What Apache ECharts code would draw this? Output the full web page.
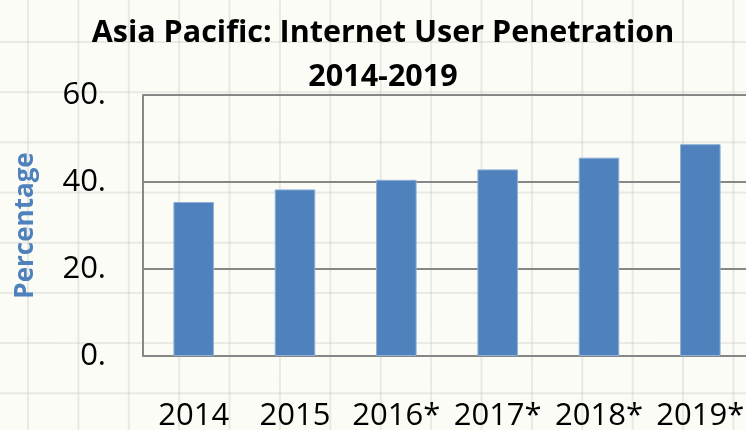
<!DOCTYPE html>
<html>
<head>
<meta charset="utf-8">
<script src="https://cdn.jsdelivr.net/npm/echarts@6/dist/echarts.min.js"></script>
<style>
  html, body { margin: 0; padding: 0; }
  body {
    width: 746px; height: 430px; overflow: hidden;
    background-color: #fcfcf7;
    background-image:
      linear-gradient(to right, rgba(190,190,180,0.3) 2px, transparent 2px),
      linear-gradient(to bottom, rgba(190,190,180,0.3) 2px, transparent 2px);
    background-size: 50.4px 50.2px;
    background-position: 27px 41px;
  }
  #chart { width: 746px; height: 430px; }
</style>
</head>
<body>
<div id="chart"></div>
<script>
const years = ['2014', '2015', '2016*', '2017*', '2018*', '2019*']
const penetration = [35.4, 38.3, 40.5, 42.9, 45.6, 48.7]
const yTicks = { min: 0, max: 60, step: 20 }

const chart = echarts.init(document.getElementById('chart'))
const axisGray = '#878787'

const option = {
  backgroundColor: 'transparent',
  animation: false,
  title: {
    text: 'Asia Pacific: Internet User Penetration\n2014-2019',
    left: 378,
    textAlign: 'center',
    top: 6,
    textStyle: {
      fontFamily: 'Open Sans',
      fontWeight: 'bold',
      fontSize: 30.5,
      lineHeight: 44,
      color: '#000'
    }
  },
  grid: { left: 143, right: -5, top: 95, bottom: 74, containLabel: false, outerBoundsMode: 'none' },
  xAxis: {
    type: 'category',
    data: years,
    axisLine: { lineStyle: { color: axisGray, width: 2 } },
    axisTick: { show: false },
    axisLabel: {
      interval: 0,
      margin: 45,
      fontFamily: 'Open Sans',
      fontSize: 31,
      color: '#000'
    }
  },
  yAxis: {
    type: 'value',
    min: yTicks.min,
    max: yTicks.max,
    interval: yTicks.step,
    name: 'Percentage',
    nameLocation: 'middle',
    nameRotate: 90,
    nameGap: 104,
    nameTextStyle: {
      fontFamily: 'Open Sans',
      fontWeight: 'bold',
      fontSize: 26,
      color: '#4f81bd'
    },
    axisLine: { show: true, lineStyle: { color: axisGray, width: 2 } },
    axisTick: { show: false },
    splitLine: { lineStyle: { color: axisGray, width: 2 } },
    axisLabel: {
      margin: 37,
      fontFamily: 'Open Sans',
      fontSize: 31,
      color: '#000',
      formatter: (v) => v + '.'
    }
  },
  series: [
    {
      name: 'Penetration',
      type: 'bar',
      data: penetration,
      barWidth: '40%',
      itemStyle: { color: '#4f81bd', borderColor: '#8fb0d8', borderWidth: 1 }
    }
  ]
}

chart.setOption(option)
</script>
</body>
</html>
